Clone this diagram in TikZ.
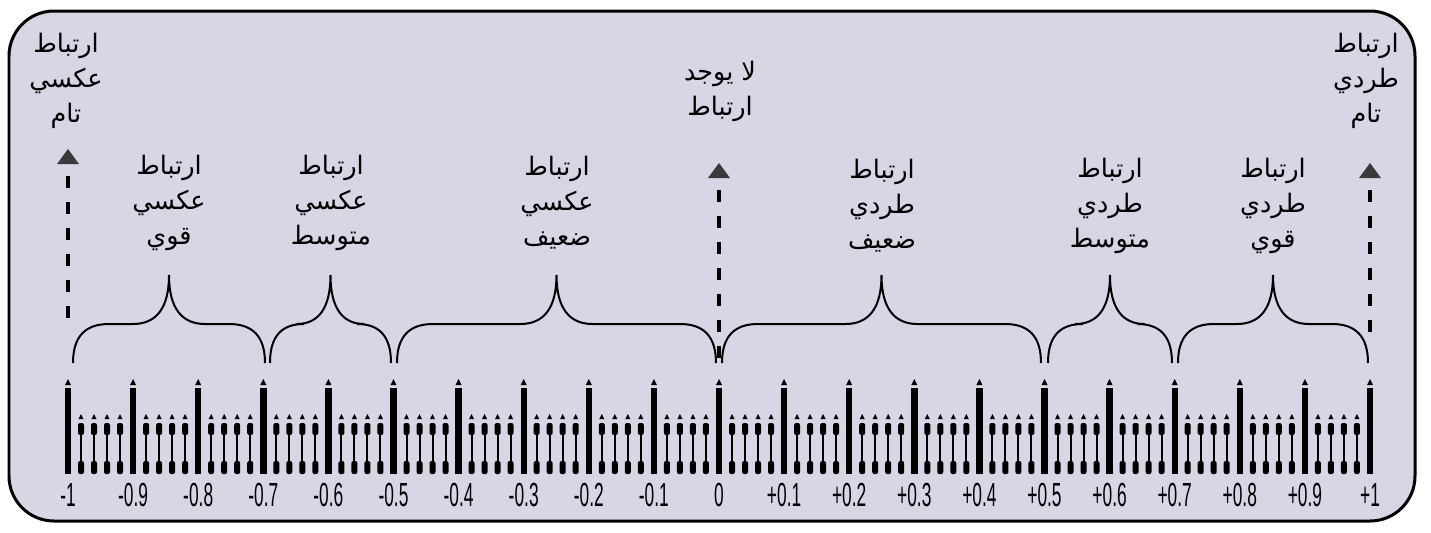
\documentclass[tikz,border=0pt]{standalone}
\usepackage{fontspec}
\usepackage{tikz}
\usetikzlibrary{calc}
\TeXXeTstate=1
\newfontfamily\arabicfont[Script=Arabic]{DejaVu Sans}
\newfontfamily\numfont[FakeStretch=0.52]{Liberation Sans}
\definecolor{panelgray}{RGB}{214,214,228}
\definecolor{tipgray}{RGB}{58,58,58}
\newcommand{\ar}[1]{\beginR #1\endR}
\newcommand{\corrbrace}[2]{%
  \pgfmathsetmacro{\bl}{#1}\pgfmathsetmacro{\br}{#2}
  \pgfmathsetmacro{\bm}{(\bl+\br)/2}
  \pgfmathsetmacro{\bq}{min(36,0.28*(\br-\bl))}
  \draw[bracestyle] (\bl,363) .. controls (\bl,336) and (\bl+0.35*\bq,324) .. (\bl+\bq,324)
    -- (\bm-\bq,324) .. controls (\bm-0.35*\bq,324) and (\bm,308) .. (\bm,275)
    .. controls (\bm,308) and (\bm+0.35*\bq,324) .. (\bm+\bq,324)
    -- (\br-\bq,324) .. controls (\br-0.35*\bq,324) and (\br,336) .. (\br,363);
}
\tikzset{
  majortick/.pic={
    \fill (-3.2,0) rectangle (3.2,-86);
    \fill (-3,-89) -- (3,-89) -- (0,-95) -- cycle;
  },
  minortick/.pic={
    \fill[rounded corners=1.2pt] (-3,0) rectangle (3,-13);
    \fill (-1,-12) rectangle (1,-40);
    \fill[rounded corners=1.2pt] (-3,-39) rectangle (3,-51);
    \fill (-2.5,-55) -- (2.5,-55) -- (0,-60) -- cycle;
  },
  uptip/.pic={
    \fill[tipgray] (-11,0) -- (11,0) -- (0,-15) -- cycle;
  },
  dashline/.style={line width=0.07cm, dash pattern=on 0.24cm off 0.28cm},
  bracestyle/.style={line width=0.04cm},
  numlabel/.style={font=\numfont\fontsize{19}{19}\selectfont, inner sep=0pt},
  corrlabel/.style={font=\arabicfont\fontsize{14.5}{20}\selectfont, align=center, inner sep=0pt}
}
\begin{document}
\begin{tikzpicture}[x=0.02cm,y=-0.02cm]
  \useasboundingbox (0,0) rectangle (1431,532);
  \draw[line width=0.06cm, fill=panelgray, rounded corners=0.9cm] (9,11) rectangle (1415,521);

  \foreach \i in {0,...,20} {
    \pgfmathsetmacro{\tx}{68+65.1*\i}
    \pic at (\tx,474) {majortick};
    \ifnum\i<20
      \foreach \j in {1,...,4} {\pic at (\tx+13*\j,474) {minortick};}
    \fi
  }
  \foreach \v [count=\i from 0] in {-1,-0.9,-0.8,-0.7,-0.6,-0.5,-0.4,-0.3,-0.2,-0.1,0,+0.1,+0.2,+0.3,+0.4,+0.5,+0.6,+0.7,+0.8,+0.9,+1}
    \node[numlabel] (num\i) at (68+65.1*\i,495) {\v};

  \corrbrace{73}{265}
  \corrbrace{270}{391}
  \corrbrace{397}{716}
  \corrbrace{722}{1041}
  \corrbrace{1048}{1172}
  \corrbrace{1178}{1368}

  \coordinate (negtop) at (68,176);
  \coordinate (negbot) at (68,320);
  \coordinate (zerotop) at (719,190);
  \coordinate (zerobot) at (719,360);
  \coordinate (postop) at (1370,190);
  \coordinate (posbot) at (1370,333);
  \draw[dashline] (negtop) -- (negbot);
  \draw[dashline] (zerotop) -- (zerobot);
  \draw[dashline] (postop) -- (posbot);
  \pic at (68,164) {uptip};
  \pic at (719,178) {uptip};
  \pic at (1370,178) {uptip};

  \node[corrlabel] (fullneg) at (66,81) {\ar{ارتباط}\\\ar{عكسي}\\\ar{تام}};
  \node[corrlabel] (nocorr) at (720,91) {\ar{لا يوجد}\\\ar{ارتباط}};
  \node[corrlabel] (fullpos) at (1366,81) {\ar{ارتباط}\\\ar{طردي}\\\ar{تام}};

  \node[corrlabel] (strongneg) at (169,203) {\ar{ارتباط}\\\ar{عكسي}\\\ar{قوي}};
  \node[corrlabel] (midneg) at (331,203) {\ar{ارتباط}\\\ar{عكسي}\\\ar{متوسط}};
  \node[corrlabel] (weakneg) at (557,203) {\ar{ارتباط}\\\ar{عكسي}\\\ar{ضعيف}};
  \node[corrlabel] (weakpos) at (882,206) {\ar{ارتباط}\\\ar{طردي}\\\ar{ضعيف}};
  \node[corrlabel] (midpos) at (1110,206) {\ar{ارتباط}\\\ar{طردي}\\\ar{متوسط}};
  \node[corrlabel] (strongpos) at (1273,206) {\ar{ارتباط}\\\ar{طردي}\\\ar{قوي}};
\end{tikzpicture}
\end{document}
